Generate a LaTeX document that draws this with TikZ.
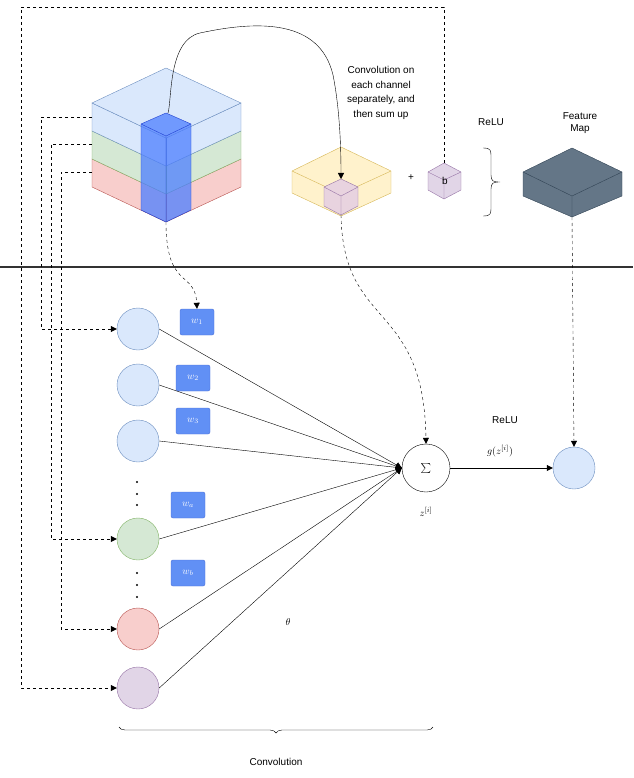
\documentclass[tikz,border=0pt]{standalone}
\usepackage{fontspec}
\setmainfont{Liberation Sans}
\usetikzlibrary{arrows.meta,decorations.pathreplacing}
\definecolor{bF}{HTML}{DAE8FC}\definecolor{bS}{HTML}{6C8EBF}
\definecolor{gF}{HTML}{D5E8D4}\definecolor{gS}{HTML}{82B366}
\definecolor{rF}{HTML}{F8CECC}\definecolor{rS}{HTML}{B85450}
\definecolor{pF}{HTML}{E1D5E7}\definecolor{pS}{HTML}{9673A6}
\definecolor{yF}{HTML}{FFF2CC}\definecolor{yS}{HTML}{D6B656}
\definecolor{dF}{HTML}{647687}\definecolor{dS}{HTML}{314354}
\definecolor{wF}{HTML}{6190F5}\definecolor{wS}{HTML}{4A70D8}
\definecolor{cF}{HTML}{4D7FFF}\definecolor{cS}{HTML}{1F3FD0}
\begin{document}
\begin{tikzpicture}[x=1pt,y=-1pt,font=\fontsize{10}{12}\selectfont,
 neuron/.style={circle,minimum size=42pt,inner sep=0pt,draw},
 wbox/.style={rounded corners=2pt,fill=wF,draw=wS,minimum width=34pt,minimum height=26pt,text=white,inner sep=0pt},
 dsh/.style={dashed,-{Triangle[length=6pt,width=6pt]}},
 arr/.style={-{Triangle[length=6pt,width=6pt]}},
 lbl/.style={align=center,inner sep=0pt}]
\useasboundingbox (0,0) rectangle (633,778);
% big cube layers (bottom to top)
\foreach \f/\s/\t in {rF/rS/159,gF/gS/131,bF/bS/103}{
 \filldraw[fill=\f,draw=\s] (92,\t) -- (166,\t+35) -- (241,\t) -- (241,\t+28) -- (166,\t+63) -- (92,\t+28) -- cycle;
 \draw[\s] (166,\t+35) -- (166,\t+63);
}
\filldraw[fill=bF,draw=bS] (92,103) -- (166,68) -- (241,103) -- (166,138) -- cycle;
% inner column
\filldraw[fill=cF,fill opacity=0.75,draw=cS] (141,124) -- (166,113) -- (191,124) -- (191,210) -- (166,222) -- (141,210) -- cycle;
\draw[cS] (141,124) -- (166,136) -- (191,124) (166,136) -- (166,222);
\coordinate (ctop) at (168,113);
\coordinate (cbot) at (166,222);
% yellow slab
\filldraw[fill=yF,draw=yS] (292,171) -- (341,147) -- (391,171) -- (391,193) -- (341,216) -- (292,193) -- cycle;
\draw[yS] (292,171) -- (341,194) -- (391,171);
\filldraw[fill=pF!70!rF,draw=pS] (324,187) -- (341,179) -- (358,187) -- (358,206) -- (341,215) -- (324,206) -- cycle;
\draw[pS] (324,187) -- (341,196) -- (358,187) (341,196) -- (341,215);
\coordinate (stop) at (341,179); \coordinate (sbot) at (341,215);
\node (plus) at (411,178) {+};
% bias cube
\filldraw[fill=pF,draw=pS] (428,172) -- (444,163) -- (461,172) -- (461,190) -- (444,199) -- (428,190) -- cycle;
\draw[pS] (428,172) -- (444,180) -- (461,172) (444,180) -- (444,199);
\node (b) at (445,181) {b};
\coordinate (btop) at (444,163);
% brace
\draw (483,148) .. controls (491,148) and (491,150) .. (491,158) -- (491,175) .. controls (491,181) and (493,182) .. (500,182)
      .. controls (493,182) and (491,183) .. (491,189) -- (491,206) .. controls (491,214) and (491,216) .. (483,216);
\node (relu1) at (491,122) {ReLU};
\node[lbl] (fm) at (580,123) {Feature\\Map};
% dark cube
\filldraw[fill=dF,draw=dS] (523,172) -- (572,148) -- (622,172) -- (622,196) -- (572,217) -- (523,196) -- cycle;
\draw[dS] (523,172) -- (572,196) -- (622,172) (572,196) -- (572,217);
\coordinate (fbot) at (572,217);
\node[lbl,font=\fontsize{10}{14.5}\selectfont] (conv) at (381,93) {Convolution on\\each channel\\separately, and\\then sum up};
% separator
\draw[line width=1.8pt,black!80] (0,267) -- (633,267);
% neurons
\node[neuron,fill=bF,draw=bS] (n1) at (138,329) {};
\node[neuron,fill=bF,draw=bS] (n2) at (138,385) {};
\node[neuron,fill=bF,draw=bS] (n3) at (138,441) {};
\node[neuron,fill=gF,draw=gS] (n4) at (138,539) {};
\node[neuron,fill=rF,draw=rS] (n5) at (138,629) {};
\node[neuron,fill=pF,draw=pS] (n6) at (138,688) {};
\node[neuron,fill=bF,draw=bS] (out) at (574,468) {};
\node[circle,draw,minimum size=48pt,inner sep=0pt,font=\Large] (sum) at (426,468) {$\sum$};
\node (z) at (426,512) {$z^{[i]}$};
\node (relu2) at (505,420) {ReLU};
\node (g) at (500,451) {$g(z^{[i]})$};
\node (theta) at (288,622) {$\theta$};
\foreach \y in {482,494,505,573,585,597}{\fill (137,\y) circle (1.1pt);}
\node[wbox] (w1) at (197,322) {$w_1$};
\node[wbox] (w2) at (193,378) {$w_2$};
\node[wbox] (w3) at (193,421) {$w_3$};
\node[wbox] (wa) at (188,505) {$w_a$};
\node[wbox] (wb) at (188,573) {$w_b$};
% connectors
\foreach \n in {n1,n2,n3,n4,n5,n6}{\draw[arr] (\n.east) -- (sum.west);}
\draw[arr] (sum) -- (out);
\draw[arr] (ctop) .. controls (172,100) and (168,40) .. (200,33) .. controls (260,20) and (320,20) .. (333,75) .. controls (340,110) and (341,150) .. (stop);
\draw[dsh] (cbot) .. controls (166,290) and (195,270) .. (w1.north);
\draw[dsh] (sbot) .. controls (343,330) and (424,300) .. (sum.north);
\draw[dsh] (fbot) -- (out.north);
\draw[dsh] (btop) -- (444,7) -- (21,7) |- (n6.west);
\draw[dsh] (92,117) -- (41,117) |- (n1.west);
\draw[dsh] (92,144) -- (51,144) |- (n4.west);
\draw[dsh] (92,172) -- (61,172) |- (n5.west);
% bottom brace
\draw[decorate,decoration={brace,mirror,amplitude=6pt}] (119,727) -- (433,727);
\node (convlbl) at (276,762) {Convolution};
\end{tikzpicture}
\end{document}
